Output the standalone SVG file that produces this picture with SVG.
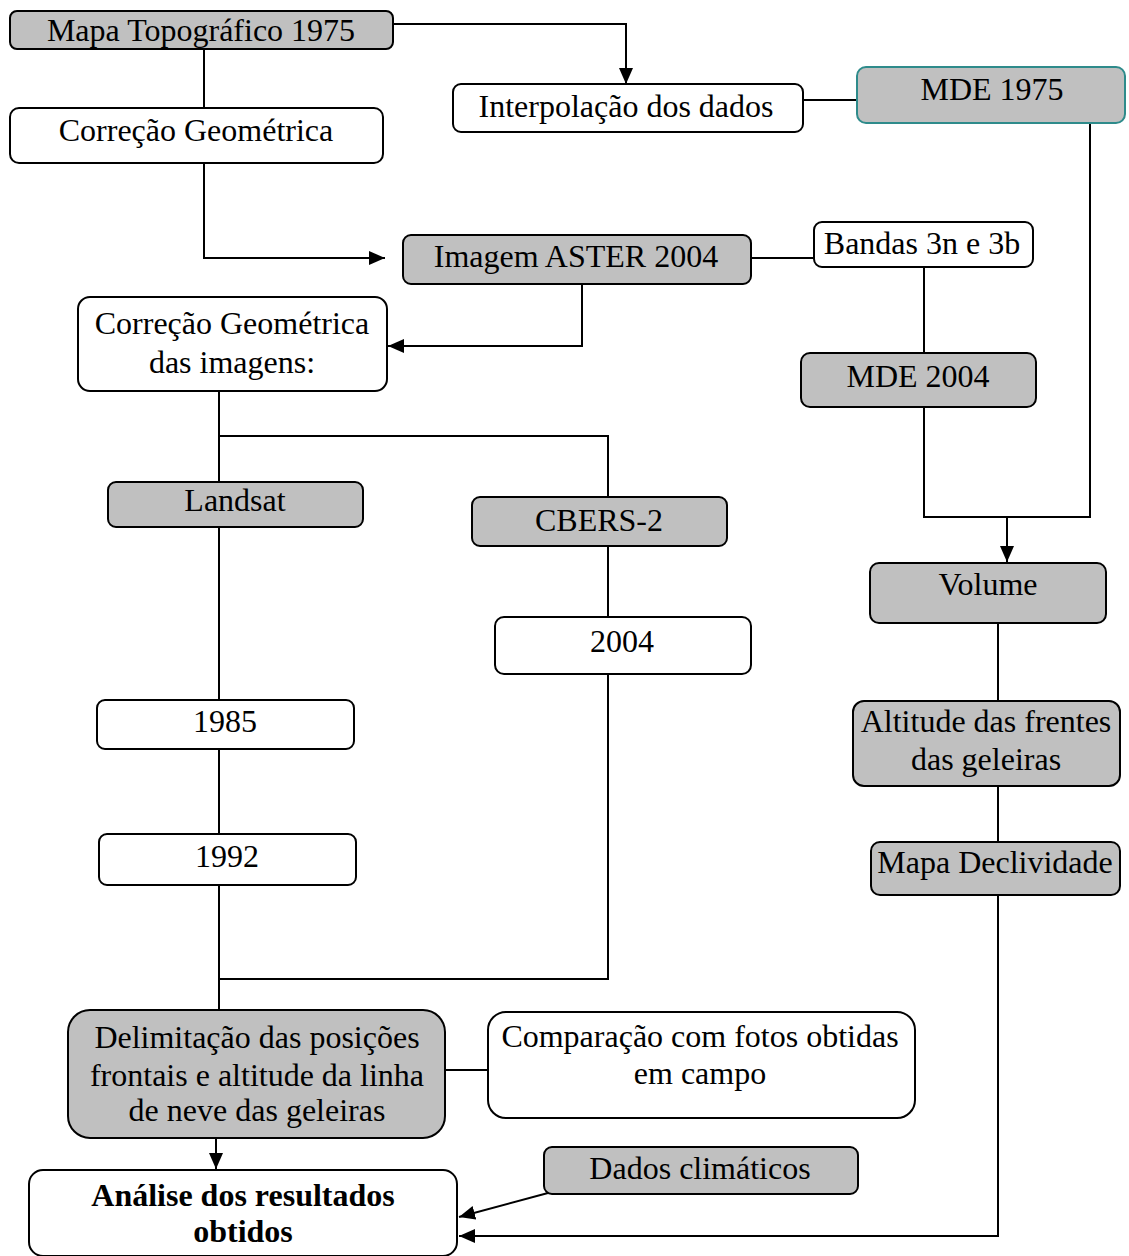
<svg xmlns="http://www.w3.org/2000/svg" width="1129" height="1256" viewBox="0 0 1129 1256" font-family="'Liberation Serif', 'Times New Roman', 'DejaVu Serif', serif">
<style>
.n rect{stroke:#000;stroke-width:2}
.g rect{fill:#c0c0c0}
.w rect{fill:#fff}
text{font-family:'Liberation Serif','Times New Roman','DejaVu Serif',serif;font-size:32px;fill:#000;text-anchor:middle}
.b{font-weight:bold}
#conn path,#conn line{stroke:#000;stroke-width:2;fill:none}
</style>
<defs>
<marker id="a" viewBox="0 0 16 14" refX="16" refY="7" markerWidth="16" markerHeight="14" markerUnits="userSpaceOnUse" orient="auto">
<path d="M0,0 L16,7 L0,14 Z" fill="#000"/>
</marker>
</defs>
<rect width="1129" height="1256" fill="#fff"/>
<g id="conn">
<line x1="204" y1="49" x2="204" y2="108"/>
<path d="M393,24 H626 V84" marker-end="url(#a)"/>
<line x1="803" y1="100" x2="857" y2="100"/>
<path d="M204,163 V258 H385" marker-end="url(#a)"/>
<line x1="751" y1="258" x2="814" y2="258"/>
<line x1="924" y1="267" x2="924" y2="353"/>
<path d="M924,407 V517 H1090 V123"/>
<line x1="1007" y1="517" x2="1007" y2="562" marker-end="url(#a)"/>
<line x1="998" y1="623" x2="998" y2="701"/>
<line x1="998" y1="786" x2="998" y2="842"/>
<path d="M998,895 V1236 H459" marker-end="url(#a)"/>
<path d="M582,284 V346 H388" marker-end="url(#a)"/>
<line x1="219" y1="391" x2="219" y2="483"/>
<path d="M219,436 H608 V497"/>
<line x1="608" y1="546" x2="608" y2="617"/>
<path d="M608,674 V979 H219"/>
<line x1="219" y1="527" x2="219" y2="700"/>
<line x1="219" y1="749" x2="219" y2="834"/>
<line x1="219" y1="885" x2="219" y2="1010"/>
<line x1="445" y1="1070" x2="488" y2="1070"/>
<line x1="216" y1="1138" x2="216" y2="1169" marker-end="url(#a)"/>
<line x1="548" y1="1193" x2="459" y2="1217" marker-end="url(#a)"/>
</g>
<g id="mapa" class="n g"><rect x="10" y="11" width="383" height="38" rx="7"/><text x="201" y="41">Mapa Topográfico 1975</text></g>
<g id="correcao1" class="n w"><rect x="10" y="108" width="373" height="55" rx="9"/><text x="196" y="141">Correção Geométrica</text></g>
<g id="interp" class="n w"><rect x="453" y="84" width="350" height="48" rx="8"/><text x="626" y="117">Interpolação dos dados</text></g>
<g id="mde1975" class="n g"><rect x="857" y="67" width="268" height="56" rx="9" style="stroke:#2e8b8b"/><text x="992" y="100">MDE 1975</text></g>
<g id="aster" class="n g"><rect x="403" y="235" width="348" height="49" rx="8"/><text x="576" y="267">Imagem ASTER 2004</text></g>
<g id="bandas" class="n w"><rect x="814" y="222" width="219" height="45" rx="8"/><text x="922" y="254">Bandas 3n e 3b</text></g>
<g id="mde2004" class="n g"><rect x="801" y="353" width="235" height="54" rx="9"/><text x="918" y="387">MDE 2004</text></g>
<g id="volume" class="n g"><rect x="870" y="563" width="236" height="60" rx="9"/><text x="988" y="595">Volume</text></g>
<g id="altitude" class="n g"><rect x="853" y="701" width="267" height="85" rx="11"/><text x="986" y="732">Altitude das frentes</text><text x="986" y="770">das geleiras</text></g>
<g id="declividade" class="n g"><rect x="871" y="842" width="249" height="53" rx="9"/><text x="995" y="873">Mapa Declividade</text></g>
<g id="correcao2" class="n w"><rect x="78" y="297" width="309" height="94" rx="12"/><text x="232" y="334">Correção Geométrica</text><text x="232" y="373">das imagens:</text></g>
<g id="landsat" class="n g"><rect x="108" y="482" width="255" height="45" rx="8"/><text x="235" y="511">Landsat</text></g>
<g id="cbers" class="n g"><rect x="472" y="497" width="255" height="49" rx="8"/><text x="599" y="531">CBERS-2</text></g>
<g id="y2004" class="n w"><rect x="495" y="617" width="256" height="57" rx="9"/><text x="622" y="652">2004</text></g>
<g id="y1985" class="n w"><rect x="97" y="700" width="257" height="49" rx="8"/><text x="225" y="732">1985</text></g>
<g id="y1992" class="n w"><rect x="99" y="834" width="257" height="51" rx="8"/><text x="227" y="867">1992</text></g>
<g id="delim" class="n g"><rect x="68" y="1010" width="377" height="128" rx="22"/><text x="257" y="1048">Delimitação das posições</text><text x="257" y="1086">frontais e altitude da linha</text><text x="257" y="1121">de neve das geleiras</text></g>
<g id="comparacao" class="n w"><rect x="488" y="1012" width="427" height="106" rx="18"/><text x="700" y="1047">Comparação com fotos obtidas</text><text x="700" y="1084">em campo</text></g>
<g id="dados" class="n g"><rect x="544" y="1147" width="314" height="47" rx="8"/><text x="700" y="1179">Dados climáticos</text></g>
<g id="analise" class="n w"><rect x="29" y="1170" width="428" height="86" rx="14"/><text x="243" y="1206" class="b">Análise dos resultados</text><text x="243" y="1242" class="b">obtidos</text></g>
</svg>
